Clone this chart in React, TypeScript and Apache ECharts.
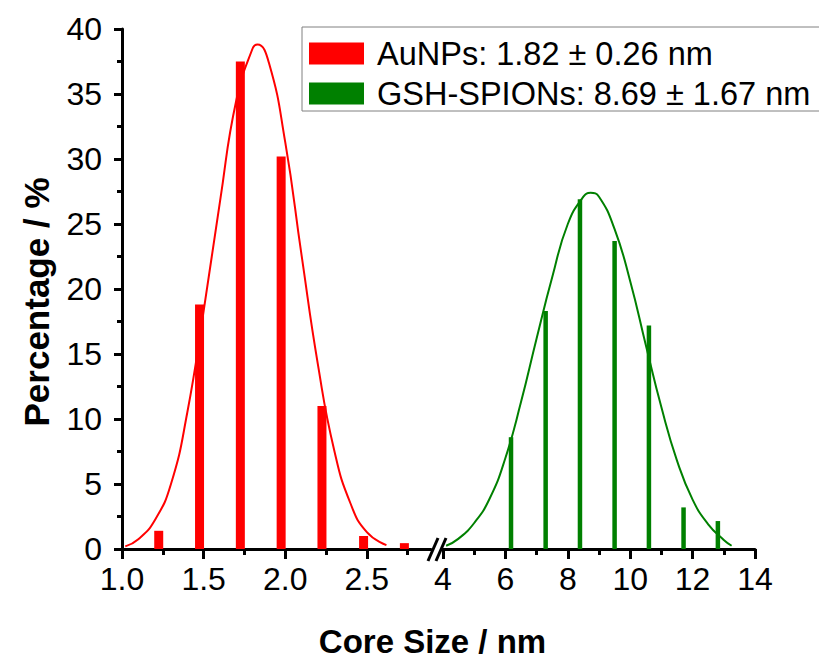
import React, { useEffect, useRef } from "react";
import * as echarts from "echarts";

// ---- data ----
const auBarX = [1.225, 1.475, 1.725, 1.975, 2.225, 2.48, 2.73];
const auBarY = [1.4, 18.8, 37.5, 30.2, 11.0, 1.0, 0.45];
const auFitX = [1.02, 1.1, 1.2, 1.3, 1.4, 1.5, 1.6, 1.7, 1.8, 1.83, 1.9, 2.0, 2.1, 2.2, 2.3, 2.4, 2.5, 2.62];
const auFitY = [0.2, 0.75, 2.2, 5.0, 10.5, 18.3, 26.7, 34.5, 38.5, 38.8, 37.4, 31.3, 22.6, 14.2, 7.6, 3.5, 1.3, 0.3];

const gsBarX = [6.18, 7.29, 8.39, 9.5, 10.6, 11.71, 12.81];
const gsBarY = [8.6, 18.3, 26.9, 23.7, 17.2, 3.2, 2.15];
const gsFitX = [4.1, 4.5, 5.0, 5.5, 6.0, 6.5, 7.0, 7.5, 8.0, 8.5, 8.73, 9.0, 9.5, 10.0, 10.5, 11.0, 11.5, 12.0, 12.5, 13.0, 13.25];
const gsFitY = [0.25, 0.8, 2.0, 3.9, 7.0, 11.3, 16.2, 20.9, 25.0, 27.1, 27.4, 27.1, 24.6, 20.6, 15.7, 10.9, 6.8, 3.8, 1.9, 0.7, 0.25];

const leftMajorTicks = [1.0, 1.5, 2.0, 2.5];
const leftMinorTicks = [1.25, 1.75, 2.25, 2.75];

const auName = "AuNPs: 1.82 ± 0.26 nm";
const gsName = "GSH-SPIONs: 8.69 ± 1.67 nm";
const xTitle = "Core Size / nm";
const yTitle = "Percentage / %";

const FONT = "Liberation Sans, Arial, sans-serif";

export default function App() {
  const ref = useRef<HTMLDivElement>(null);
  useEffect(() => {
    if (!ref.current) return;
    const chart = echarts.init(ref.current, null, { renderer: "svg" });
    const axisCol = "#000";
    const pair = (xs: number[], ys: number[]) => xs.map((x, i) => [x, ys[i]]);
    const option: any = {
      animation: false,
      backgroundColor: "#fff",
      textStyle: { fontFamily: FONT },
      grid: [
        { left: 122, top: 29, width: 309, height: 520 },
        { left: 443, top: 29, width: 312, height: 520 },
      ],
      xAxis: [
        {
          gridIndex: 0, type: "value", min: 1, max: 2.893,
          axisLine: { show: true, onZero: false, lineStyle: { color: axisCol, width: 3 } },
          axisTick: { show: true, customValues: leftMajorTicks, length: 10, lineStyle: { color: axisCol, width: 3 } },
          axisLabel: { customValues: leftMajorTicks, formatter: (v: number) => v.toFixed(1), fontSize: 32, margin: 14, color: "#000", fontFamily: FONT },
          splitLine: { show: false },
        },
        {
          gridIndex: 0, type: "value", min: 1, max: 2.893, position: "bottom",
          axisLine: { show: false, onZero: false },
          axisTick: { show: true, customValues: leftMinorTicks, length: 6, lineStyle: { color: axisCol, width: 3 } },
          axisLabel: { show: false },
          splitLine: { show: false },
        },
        {
          gridIndex: 1, type: "value", min: 4, max: 14, interval: 2,
          axisLine: { show: true, onZero: false, lineStyle: { color: axisCol, width: 3 } },
          axisTick: { show: true, length: 10, lineStyle: { color: axisCol, width: 3 } },
          minorTick: { show: true, splitNumber: 2, length: 6, lineStyle: { color: axisCol, width: 3 } },
          axisLabel: { fontSize: 32, margin: 14, color: "#000", fontFamily: FONT },
          splitLine: { show: false },
        },
      ],
      yAxis: [
        {
          gridIndex: 0, type: "value", min: 0, max: 40, interval: 5,
          axisLine: { show: true, lineStyle: { color: axisCol, width: 3 } },
          axisTick: { show: true, length: 8, lineStyle: { color: axisCol, width: 3 } },
          minorTick: { show: true, splitNumber: 2, length: 5, lineStyle: { color: axisCol, width: 3 } },
          axisLabel: { fontSize: 32, margin: 20, color: "#000", fontFamily: FONT },
          splitLine: { show: false },
        },
        {
          gridIndex: 1, type: "value", min: 0, max: 40, interval: 5, show: false,
        },
      ],
      legend: {
        data: [auName, gsName],
        orient: "vertical",
        left: 302, top: 27,
        icon: "rect",
        itemWidth: 55, itemHeight: 22, itemGap: 7,
        padding: [10, 11, 1, 7],
        borderColor: "#808080", borderWidth: 1,
        backgroundColor: "#fff",
        textStyle: { fontSize: 32.5, color: "#000", fontFamily: FONT, lineHeight: 22, padding: [0, 0, 0, 8] },
      },
      series: [
        {
          name: auName, type: "bar", xAxisIndex: 0, yAxisIndex: 0,
          data: pair(auBarX, auBarY), barWidth: 9, itemStyle: { color: "#ff0000" },
        },
        {
          name: "AuNPs fit", type: "line", xAxisIndex: 0, yAxisIndex: 0, smooth: true,
          showSymbol: false, data: pair(auFitX, auFitY),
          lineStyle: { color: "#ff0000", width: 2 }, itemStyle: { color: "#ff0000" },
        },
        {
          name: gsName, type: "bar", xAxisIndex: 2, yAxisIndex: 1,
          data: pair(gsBarX, gsBarY), barWidth: 4.5, itemStyle: { color: "#008000" },
        },
        {
          name: "GSH-SPIONs fit", type: "line", xAxisIndex: 2, yAxisIndex: 1, smooth: true,
          showSymbol: false, data: pair(gsFitX, gsFitY),
          lineStyle: { color: "#008000", width: 2 }, itemStyle: { color: "#008000" },
        },
      ],
      graphic: [
        { type: "line", shape: { x1: 428, y1: 561, x2: 438, y2: 538 }, style: { stroke: "#000", lineWidth: 3 } },
        { type: "line", shape: { x1: 436, y1: 561, x2: 446, y2: 538 }, style: { stroke: "#000", lineWidth: 3 } },
        {
          type: "text", x: 432.5, y: 641,
          style: { text: xTitle, fontSize: 33, fontWeight: "bold", fill: "#000", fontFamily: FONT, textAlign: "center", textVerticalAlign: "middle" },
        },
        {
          type: "text", x: 36, y: 302, rotation: Math.PI / 2,
          style: { text: yTitle, fontSize: 35, fontWeight: "bold", fill: "#000", fontFamily: FONT, textAlign: "center", textVerticalAlign: "middle" },
        },
      ],
    };
    chart.setOption(option);
    return () => chart.dispose();
  }, []);
  return <div ref={ref} style={{ position: "absolute", left: 0, top: 0, width: 819, height: 659 }} />;
}
